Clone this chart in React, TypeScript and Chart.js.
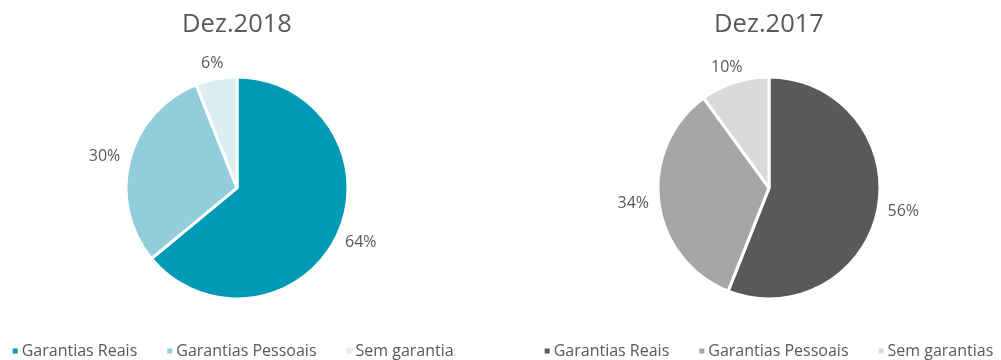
import React, { useEffect, useRef } from "react";
import { Chart, registerables } from "chart.js";

Chart.register(...registerables);

const categories = ["Garantias Reais", "Garantias Pessoais", "Sem garantias"];
const titles = ["Dez.2018", "Dez.2017"];
const values2018 = [64, 30, 6];
const values2017 = [56, 34, 10];
const colors2018 = ["#009AB7", "#92CDDC", "#DAEEF3"];
const colors2017 = ["#595959", "#A6A6A6", "#D9D9D9"];

const FONT = "'Open Sans', 'Noto Sans', sans-serif";
const TEXT = "#595959";

const sliceLabels = {
  id: "sliceLabels",
  afterDatasetsDraw(chart: any) {
    const ctx = chart.ctx;
    const meta = chart.getDatasetMeta(0);
    const data = chart.data.datasets[0].data as number[];
    ctx.save();
    ctx.font = `16px ${FONT}`;
    ctx.fillStyle = TEXT;
    ctx.textAlign = "center";
    ctx.textBaseline = "middle";
    meta.data.forEach((arc: any, i: number) => {
      const { x, y, startAngle, endAngle, outerRadius } = arc.getProps(
        ["x", "y", "startAngle", "endAngle", "outerRadius"],
        true
      );
      const mid = (startAngle + endAngle) / 2;
      const txt = `${data[i]}%`;
      const w = ctx.measureText(txt).width;
      const h = 12;
      const c = Math.cos(mid);
      const s = Math.sin(mid);
      const d = outerRadius + 10;
      const lx = x + c * d + c * (w / 2);
      const ly = y + s * d + s * (h / 2);
      ctx.fillText(txt, lx, ly);
    });
    ctx.restore();
  },
};

const bottomLegend = {
  id: "bottomLegend",
  afterDraw(chart: any) {
    const ctx = chart.ctx;
    const labels = chart.data.labels as string[];
    const colors = chart.data.datasets[0].backgroundColor as string[];
    ctx.save();
    ctx.font = `16px ${FONT}`;
    ctx.textBaseline = "middle";
    ctx.textAlign = "left";
    const box = 5;
    const gapBox = 4;
    const gapItem = 30;
    const widths = labels.map((l) => ctx.measureText(l).width);
    const total =
      widths.reduce((a, b) => a + b + box + gapBox, 0) + gapItem * (labels.length - 1);
    const cx = (chart.chartArea.left + chart.chartArea.right) / 2;
    let x = cx - total / 2;
    const y = chart.height - 9;
    labels.forEach((l, i) => {
      ctx.fillStyle = colors[i];
      ctx.fillRect(x, y - box / 2, box, box);
      ctx.fillStyle = TEXT;
      ctx.fillText(l, x + box + gapBox, y);
      x += box + gapBox + widths[i] + gapItem;
    });
    ctx.restore();
  },
};

function PieChart(props: {
  title: string;
  values: number[];
  colors: string[];
  padRight: number;
  w: number;
}) {
  const ref = useRef<HTMLCanvasElement | null>(null);
  useEffect(() => {
    if (!ref.current) return;
    const chart = new Chart(ref.current, {
      type: "pie",
      data: {
        labels: categories,
        datasets: [
          {
            data: props.values,
            backgroundColor: props.colors,
            borderColor: "#FFFFFF",
            borderWidth: 3,
            radius: 111,
          } as any,
        ],
      },
      options: {
        animation: false,
        responsive: false,
        maintainAspectRatio: false,
        layout: { padding: { top: 0, bottom: 33, left: 0, right: props.padRight } },
        plugins: {
          legend: { display: false },
          tooltip: { enabled: false },
          title: {
            display: true,
            text: props.title,
            color: TEXT,
            font: { family: FONT, size: 25.5, weight: "normal" as any, lineHeight: 1.13 },
            padding: { top: 10, bottom: 10 },
          },
        },
      },
      plugins: [sliceLabels, bottomLegend],
    });
    return () => chart.destroy();
  }, []);
  return (
    <canvas
      ref={ref}
      width={props.w}
      height={360}
      style={{ display: "block", width: props.w, height: 360 }}
    />
  );
}

export default function App() {
  return (
    <div
      style={{
        position: "fixed",
        left: 0,
        top: 0,
        width: 1001,
        height: 360,
        background: "#FFFFFF",
        overflow: "hidden",
      }}
    >
      <div
        style={{ position: "absolute", left: 0, top: 0, width: 455, height: 360, overflow: "hidden" }}
      >
        <div style={{ position: "absolute", left: 8, top: 0, width: 470, height: 360 }}>
          <PieChart title={titles[0]} values={values2018} colors={colors2018} padRight={12} w={470} />
        </div>
      </div>
      <div style={{ position: "absolute", left: 543, top: 0, width: 458, height: 360 }}>
        <PieChart title={titles[1]} values={values2017} colors={colors2017} padRight={6} w={458} />
      </div>
    </div>
  );
}
